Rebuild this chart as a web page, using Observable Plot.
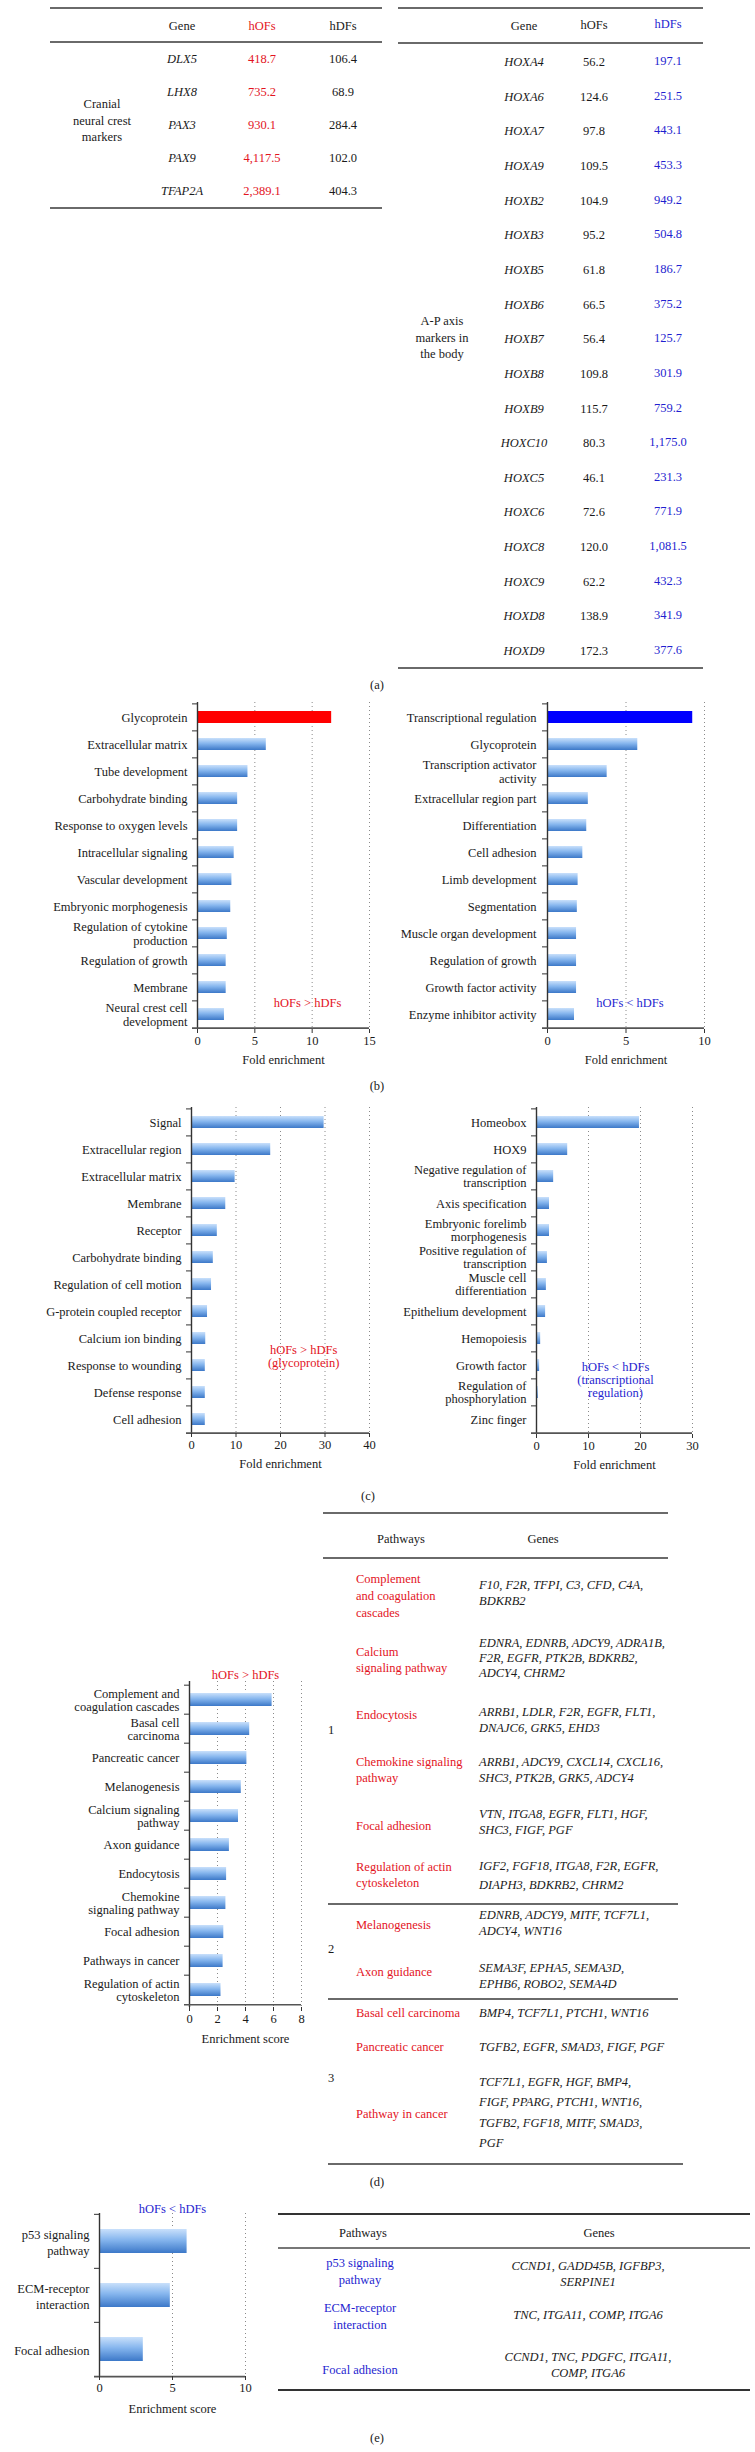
<!DOCTYPE html>
<html>
<head>
<meta charset="utf-8">
<script src="https://cdn.jsdelivr.net/npm/d3@7"></script>
<script src="https://cdn.jsdelivr.net/npm/@observablehq/plot@0.6"></script>
<style>
  html, body { margin: 0; padding: 0; background: #fff; }
  #page { position: relative; width: 755px; height: 2452px; background: #fff; overflow: hidden;
          font-family: "Liberation Serif", "DejaVu Serif", serif; color: #1a1a1a; }
  .t { position: absolute; white-space: pre; }
  .rule { position: absolute; height: 1.6px; background: #6a6a6a; }
  svg { position: absolute; overflow: visible; }
</style>
</head>
<body>
<div id="page"></div>
<script>
// ---------------- DATA ----------------
// (a) Cranial neural crest markers
const crestGenes = ["DLX5", "LHX8", "PAX3", "PAX9", "TFAP2A"];
const crestHOFs = ["418.7", "735.2", "930.1", "4,117.5", "2,389.1"];
const crestHDFs = ["106.4", "68.9", "284.4", "102.0", "404.3"];
// (a) A-P axis markers in the body
const apGenes = ["HOXA4","HOXA6","HOXA7","HOXA9","HOXB2","HOXB3","HOXB5","HOXB6","HOXB7","HOXB8","HOXB9","HOXC10","HOXC5","HOXC6","HOXC8","HOXC9","HOXD8","HOXD9"];
const apHOFs = ["56.2","124.6","97.8","109.5","104.9","95.2","61.8","66.5","56.4","109.8","115.7","80.3","46.1","72.6","120.0","62.2","138.9","172.3"];
const apHDFs = ["197.1","251.5","443.1","453.3","949.2","504.8","186.7","375.2","125.7","301.9","759.2","1,175.0","231.3","771.9","1,081.5","432.3","341.9","377.6"];

// (b) fold enrichment
const bUpLabels = ["Glycoprotein","Extracellular matrix","Tube development","Carbohydrate binding","Response to oxygen levels","Intracellular signaling","Vascular development","Embryonic morphogenesis","Regulation of cytokine\nproduction","Regulation of growth","Membrane","Neural crest cell\ndevelopment"];
const bUpValues = [11.7, 6.0, 4.4, 3.5, 3.5, 3.2, 3.0, 2.9, 2.6, 2.5, 2.5, 2.35];
const bDownLabels = ["Transcriptional regulation","Glycoprotein","Transcription activator\nactivity","Extracellular region part","Differentiation","Cell adhesion","Limb development","Segmentation","Muscle organ development","Regulation of growth","Growth factor activity","Enzyme inhibitor activity"];
const bDownValues = [9.25, 5.75, 3.8, 2.6, 2.5, 2.25, 1.95, 1.9, 1.85, 1.85, 1.85, 1.72];

// (c) fold enrichment
const cUpLabels = ["Signal","Extracellular region","Extracellular matrix","Membrane","Receptor","Carbohydrate binding","Regulation of cell motion","G-protein coupled receptor","Calcium ion binding","Response to wounding","Defense response","Cell adhesion"];
const cUpValues = [29.8, 17.8, 9.8, 7.7, 5.8, 4.9, 4.5, 3.6, 3.2, 3.1, 3.1, 3.1];
const cDownLabels = ["Homeobox","HOX9","Negative regulation of\ntranscription","Axis specification","Embryonic forelimb\nmorphogenesis","Positive regulation of\ntranscription","Muscle cell\ndifferentiation","Epithelium development","Hemopoiesis","Growth factor","Regulation of\nphosphorylation","Zinc finger"];
const cDownValues = [19.8, 6.0, 3.3, 2.5, 2.5, 2.1, 1.9, 1.75, 0.8, 0.6, 0.35, 0.1];

// (d) enrichment score
const dLabels = ["Complement and\ncoagulation cascades","Basal cell\ncarcinoma","Pancreatic cancer","Melanogenesis","Calcium signaling\npathway","Axon guidance","Endocytosis","Chemokine\nsignaling pathway","Focal adhesion","Pathways in cancer","Regulation of actin\ncytoskeleton"];
const dValues = [5.9, 4.3, 4.1, 3.7, 3.5, 2.85, 2.65, 2.6, 2.45, 2.4, 2.25];
const dGroups = ["1","1","1","1","1","1","2","2","3","3","3"];
const dPathways = ["Complement\nand coagulation\ncascades","Calcium\nsignaling pathway","Endocytosis","Chemokine signaling\npathway","Focal adhesion","Regulation of actin\ncytoskeleton","Melanogenesis","Axon guidance","Basal cell carcinoma","Pancreatic cancer","Pathway in cancer"];
const dGenes = ["F10, F2R, TFPI, C3, CFD, C4A,\nBDKRB2","EDNRA, EDNRB, ADCY9, ADRA1B,\nF2R, EGFR, PTK2B, BDKRB2,\nADCY4, CHRM2","ARRB1, LDLR, F2R, EGFR, FLT1,\nDNAJC6, GRK5, EHD3","ARRB1, ADCY9, CXCL14, CXCL16,\nSHC3, PTK2B, GRK5, ADCY4","VTN, ITGA8, EGFR, FLT1, HGF,\nSHC3, FIGF, PGF","IGF2, FGF18, ITGA8, F2R, EGFR,\nDIAPH3, BDKRB2, CHRM2","EDNRB, ADCY9, MITF, TCF7L1,\nADCY4, WNT16","SEMA3F, EPHA5, SEMA3D,\nEPHB6, ROBO2, SEMA4D","BMP4, TCF7L1, PTCH1, WNT16","TGFB2, EGFR, SMAD3, FIGF, PGF","TCF7L1, EGFR, HGF, BMP4,\nFIGF, PPARG, PTCH1, WNT16,\nTGFB2, FGF18, MITF, SMAD3,\nPGF"];

// (e) enrichment score
const eLabels = ["p53 signaling\npathway","ECM-receptor\ninteraction","Focal adhesion"];
const eValues = [6.0, 4.85, 3.0];
const eGenes = ["CCND1, GADD45B, IGFBP3,\nSERPINE1","TNC, ITGA11, COMP, ITGA6","CCND1, TNC, PDGFC, ITGA11,\nCOMP, ITGA6"];

// ---------------- STYLE ----------------
const SERIF = '"Liberation Serif", "DejaVu Serif", serif';
const RED = "#e3141e";
const BLUE = "#1f1fd0";
const page = document.getElementById("page");

function txt(str, x, y, o = {}) {
  const d = document.createElement("div");
  d.className = "t";
  d.textContent = str;
  const ax = o.align === "left" ? "0" : o.align === "right" ? "-100%" : "-50%";
  d.style.left = x + "px";
  d.style.top = y + "px";
  d.style.transform = `translate(${ax}, -50%)`;
  d.style.fontSize = (o.size || 12.5) + "px";
  d.style.lineHeight = (o.lh || 15) + "px";
  d.style.textAlign = o.align || "center";
  if (o.color) d.style.color = o.color;
  if (o.italic) d.style.fontStyle = "italic";
  page.appendChild(d);
}
function hr(x1, x2, y, color) {
  const d = document.createElement("div");
  d.className = "rule";
  d.style.left = x1 + "px";
  d.style.width = (x2 - x1) + "px";
  d.style.top = (y - 0.8) + "px";
  if (color) d.style.background = color;
  page.appendChild(d);
}

// ---------------- (a) TABLES ----------------
hr(50, 382, 8); hr(50, 382, 42); hr(50, 382, 208);
txt("Gene", 182, 26); txt("hOFs", 262, 26, {color: RED}); txt("hDFs", 343, 26);
txt("Cranial\nneural crest\nmarkers", 102, 121, {lh: 16.5});
crestGenes.forEach((g, i) => {
  const y = 59 + 33 * i;
  txt(g, 182, y, {italic: true});
  txt(crestHOFs[i], 262, y, {color: RED});
  txt(crestHDFs[i], 343, y);
});

hr(398, 703, 8); hr(398, 703, 43); hr(398, 703, 668);
txt("Gene", 524, 26); txt("hOFs", 594, 25); txt("hDFs", 668, 24, {color: BLUE});
txt("A-P axis\nmarkers in\nthe body", 442, 338, {lh: 16.5});
apGenes.forEach((g, i) => {
  const y = 62 + 34.65 * i;
  txt(g, 524, y, {italic: true});
  txt(apHOFs[i], 594, y);
  txt(apHDFs[i], 668, y - 1, {color: BLUE});
});
txt("(a)", 377, 685);

// ---------------- BAR CHARTS ----------------
let gid = 0;
function barChart(c) {
  const id = "grad" + (gid++);
  const n = c.labels.length;
  const mt = 28, mb = 50;
  const step = (c.yBottom - c.yTop) / n;
  const data = c.labels.map((l, i) => ({label: l, value: c.values[i],
    fill: (c.fills && c.fills[i]) || `url(#${id})`}));
  const marks = [
    Plot.ruleX(c.grid, {stroke: "#8a8a8a", strokeWidth: 1, strokeDasharray: "1,3"}),
    Plot.barX(data, {x: "value", y: "label", fill: d => d.fill}),
    Plot.ruleX([0], {stroke: "#333", strokeWidth: 1.4}),
    Plot.ruleY([c.labels[n - 1]], {dy: step / 2, x1: 0, x2: c.xMax, stroke: "#555", strokeWidth: 1.6, insetLeft: -5}),
    Plot.axisY({tickSize: 0, tickPadding: c.pad || 10, fontSize: 12.5, lineHeight: c.lh || 1.08, fill: "#1a1a1a", label: null}),
    Plot.axisY({tickSize: 5, tickFormat: () => "", dy: -step / 2, stroke: "#333", label: null}),
    Plot.axisX({ticks: c.ticks, tickSize: 4, tickPadding: 3, fontSize: 12.5, label: null, fill: "#1a1a1a", stroke: "#333"}),
    Plot.text([c.xLabel], {frameAnchor: "bottom", dy: c.xLabelDy || 34, fontSize: 12.5, fill: "#1a1a1a"})
  ];
  (c.notes || []).forEach(nt => {
    marks.push(Plot.text([nt], {x: "x", y: "y", text: "text", dy: nt.dy, fill: nt.color, fontSize: 12.5, lineHeight: 1.05}));
  });
  if (c.title) marks.push(Plot.text([c.title.text], {frameAnchor: "top", dy: c.title.dy, fill: c.title.color, fontSize: 12.5}));
  const svg = Plot.plot({
    width: c.width,
    height: mt + (c.yBottom - c.yTop) + mb,
    marginLeft: c.x0 - c.left,
    marginRight: c.left + c.width - c.x1,
    marginTop: mt,
    marginBottom: mb,
    x: {domain: [0, c.xMax], axis: null},
    y: {domain: c.labels, paddingInner: 0.56, paddingOuter: 0.28, axis: null},
    color: {type: "identity"},
    style: {fontFamily: SERIF, fontSize: "12.5px", color: "#1a1a1a", background: "transparent", overflow: "visible"},
    marks
  });
  const defs = d3.select(svg).insert("defs", ":first-child");
  const lg = defs.append("linearGradient").attr("id", id).attr("x1", 0).attr("y1", 0).attr("x2", 0).attr("y2", 1);
  lg.append("stop").attr("offset", "0%").attr("stop-color", "#c9e0fb");
  lg.append("stop").attr("offset", "45%").attr("stop-color", "#86b6ee");
  lg.append("stop").attr("offset", "100%").attr("stop-color", "#3c78c8");
  svg.style.left = c.left + "px";
  svg.style.top = (c.yTop - mt) + "px";
  page.appendChild(svg);
}

// (b)
barChart({labels: bUpLabels, values: bUpValues, xMax: 15, ticks: [0, 5, 10, 15], grid: [5, 10, 15],
  left: 0, width: 380, x0: 197, x1: 369, yTop: 702, yBottom: 1029,
  fills: ["#ff0000"], xLabel: "Fold enrichment",
  notes: [{text: "hOFs > hDFs", x: 9.6, y: bUpLabels[11], dy: -12, color: RED}]});
barChart({labels: bDownLabels, values: bDownValues, xMax: 10, ticks: [0, 5, 10], grid: [5, 10],
  left: 380, width: 375, x0: 547, x1: 704, yTop: 702, yBottom: 1029, pad: 11,
  fills: ["#0000ff"], xLabel: "Fold enrichment",
  notes: [{text: "hOFs < hDFs", x: 5.25, y: bDownLabels[11], dy: -12, color: BLUE}]});
txt("(b)", 377, 1086);

// (c)
barChart({labels: cUpLabels, values: cUpValues, xMax: 40, ticks: [0, 10, 20, 30, 40], grid: [10, 20, 30, 40],
  left: 0, width: 380, x0: 191, x1: 369, yTop: 1107, yBottom: 1433, xLabel: "Fold enrichment",
  notes: [{text: "hOFs > hDFs\n(glycoprotein)", x: 25.2, y: cUpLabels[9], dy: -9, color: RED}]});
barChart({labels: cDownLabels, values: cDownValues, xMax: 30, ticks: [0, 10, 20, 30], grid: [10, 20, 30],
  left: 380, width: 375, x0: 536, x1: 692, yTop: 1107, yBottom: 1434, lh: 1.0, xLabel: "Fold enrichment",
  notes: [{text: "hOFs < hDFs\n(transcriptional\nregulation)", x: 15.2, y: cDownLabels[9], dy: 14, color: BLUE}]});
txt("(c)", 368, 1496);

// (d)
barChart({labels: dLabels, values: dValues, xMax: 8, ticks: [0, 2, 4, 6, 8], grid: [2, 4, 6, 8],
  left: 0, width: 320, x0: 189, x1: 301, yTop: 1681, yBottom: 2007, lh: 1.05, xLabel: "Enrichment score", xLabelDy: 35,
  title: {text: "hOFs > hDFs", dy: -11, color: RED}});

// (d) table
hr(323, 668, 1513); hr(323, 668, 1558); hr(328, 678, 1904); hr(328, 678, 1999); hr(328, 683, 2164);
txt("Pathways", 401, 1539); txt("Genes", 543, 1539);
const dPathY = [1596, 1660, 1716, 1770, 1827, 1875, 1926, 1973, 2014, 2048, 2115];
const dGeneY = [1593, 1658, 1720, 1770, 1822, 1876, 1923, 1976, 2014, 2048, 2113];
const dPathLH = [17, 15.5, 15.5, 15.5, 15.5, 16, 15.5, 15.5, 15.5, 15.5, 15.5];
const dGeneLH = [15.5, 15, 15.5, 15.5, 15.5, 19, 16, 15.5, 15.5, 15.5, 20.3];
dPathways.forEach((p, i) => {
  txt(p, 356, dPathY[i], {align: "left", color: RED, lh: dPathLH[i]});
  txt(dGenes[i], 479, dGeneY[i], {align: "left", italic: true, lh: dGeneLH[i]});
});
const groupY = {"1": 1730, "2": 1949, "3": 2078};
[...new Set(dGroups)].forEach(g => txt(g, 331, groupY[g]));
txt("(d)", 377, 2182);

// (e)
barChart({labels: eLabels, values: eValues, xMax: 10, ticks: [0, 5, 10], grid: [5, 10],
  left: 0, width: 270, x0: 99, x1: 245, yTop: 2213, yBottom: 2376, lh: 1.3, xLabel: "Enrichment score", xLabelDy: 36,
  title: {text: "hOFs < hDFs", dy: -9, color: BLUE}});

hr(278, 750, 2214, "#333"); hr(278, 750, 2248, "#777"); hr(278, 750, 2390, "#333");
txt("Pathways", 363, 2233); txt("Genes", 599, 2233);
const ePathY = [2272, 2317, 2370];
const eGeneY = [2274, 2315, 2365];
eLabels.forEach((p, i) => {
  txt(p, 360, ePathY[i], {color: BLUE, lh: 17});
  txt(eGenes[i], 588, eGeneY[i], {italic: true, lh: 16});
});
txt("(e)", 377, 2438);
</script>
</body>
</html>
